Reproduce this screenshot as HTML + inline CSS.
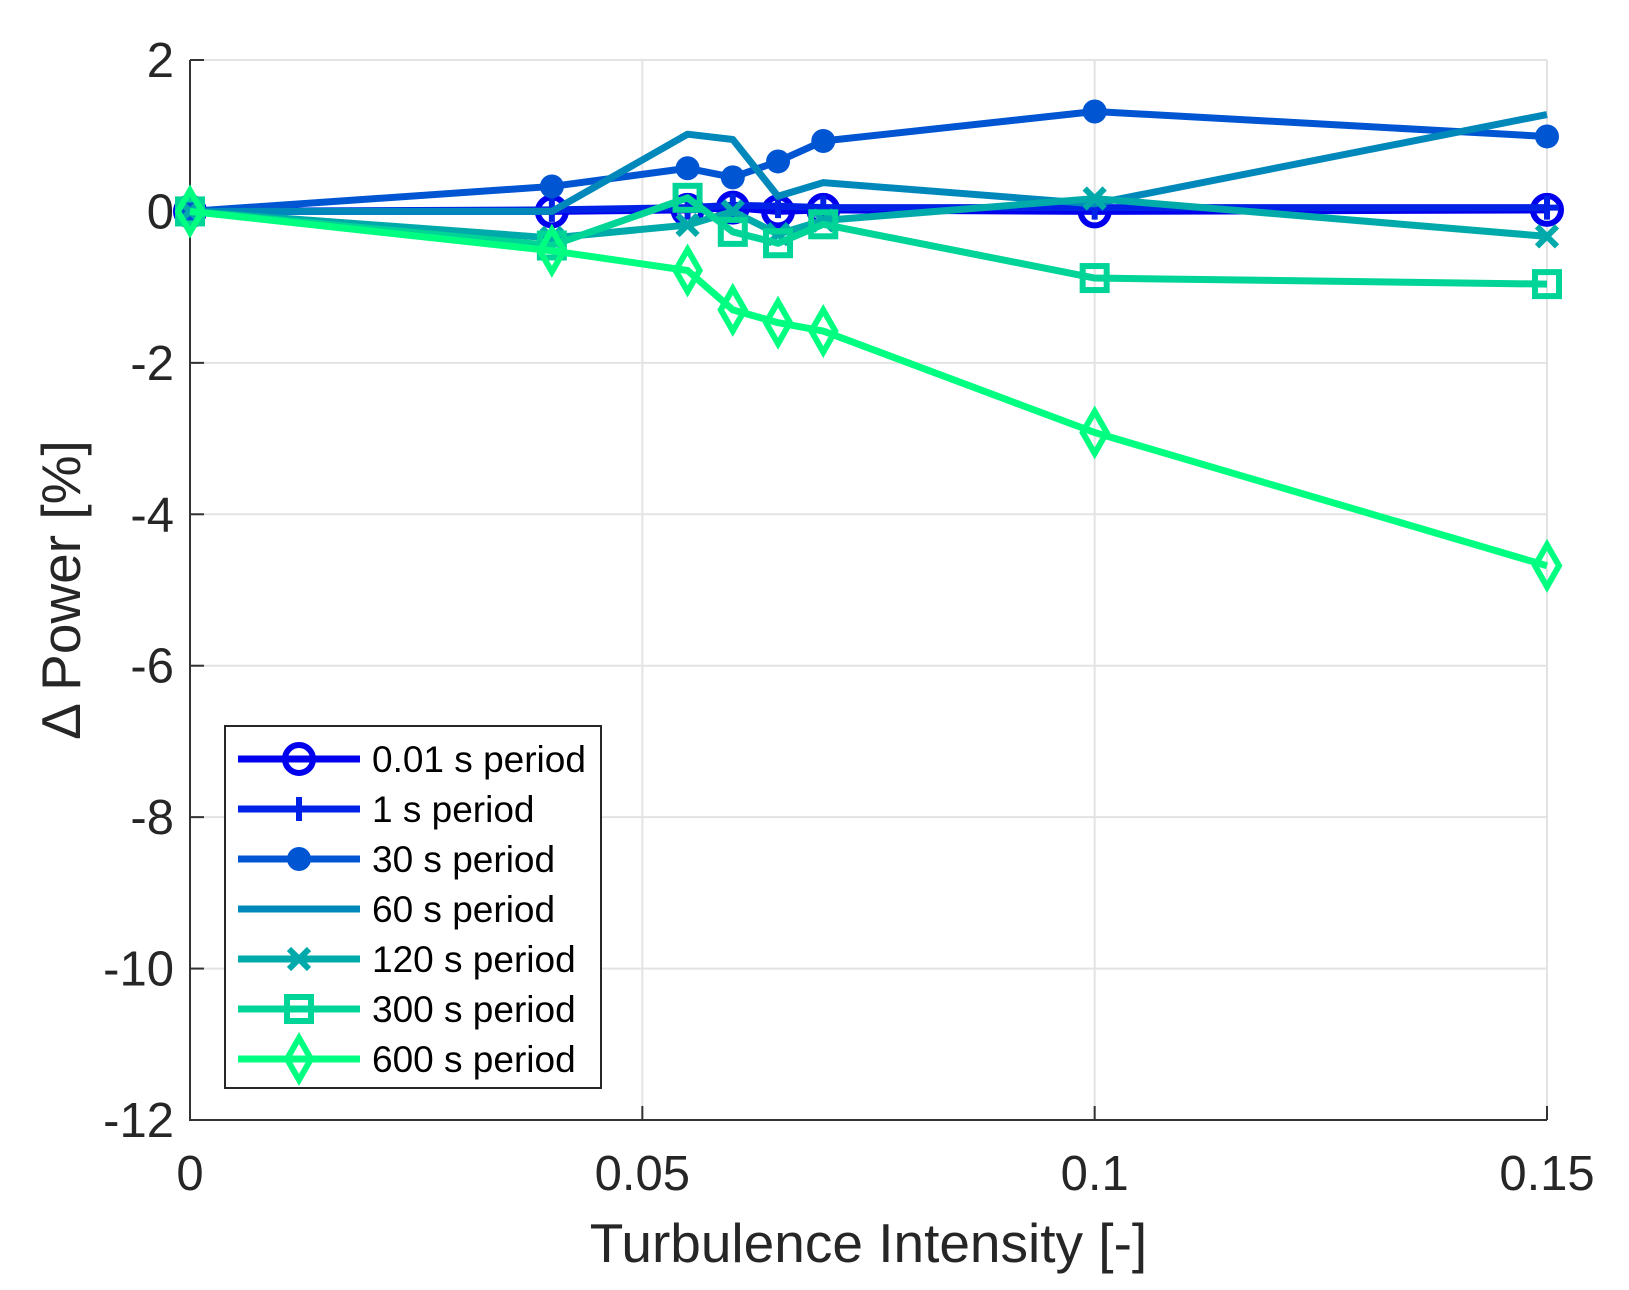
<!DOCTYPE html>
<html><head><meta charset="utf-8"><style>
body{margin:0;background:#fff}
svg{display:block;font-family:"Liberation Sans",Arial,sans-serif}
</style></head><body>
<svg id="chart" width="1629" height="1290" viewBox="0 0 1629 1290" xmlns="http://www.w3.org/2000/svg">
<g id="grid"></g>
<g id="axes"></g>
<g id="series"></g>
<g id="legend"></g>
</svg>
<script>
const xValues = [0, 0.04, 0.055, 0.06, 0.065, 0.07, 0.1, 0.15];
const s001 = [0, 0, 0.02, 0.05, 0, 0.02, 0, 0.02];
const s1 = [0, 0.02, 0.05, 0.08, 0.07, 0.05, 0.05, 0.05];
const s30 = [0, 0.33, 0.57, 0.45, 0.66, 0.93, 1.32, 0.99];
const s60 = [0, 0.0, 1.02, 0.95, 0.2, 0.38, 0.1, 1.28];
const s120 = [0, -0.35, -0.18, 0.0, -0.3, -0.12, 0.17, -0.33];
const s300 = [0, -0.45, 0.18, -0.27, -0.42, -0.17, -0.88, -0.96];
const s600 = [0, -0.52, -0.78, -1.3, -1.47, -1.58, -2.92, -4.68];
const seriesNames = ["0.01 s period","1 s period","30 s period","60 s period","120 s period","300 s period","600 s period"];
const xTicks = [0, 0.05, 0.1, 0.15];
const xTickLabels = ["0","0.05","0.1","0.15"];
const yTicks = [2, 0, -2, -4, -6, -8, -10, -12];
const yTickLabels = ["2","0","-2","-4","-6","-8","-10","-12"];

const NS="http://www.w3.org/2000/svg";
const X0=190,X1=1547,Y0=60,Y1=1120;
const xs=v=>X0+(v-0)/(0.15)*(X1-X0);
const ys=v=>Y0+(2-v)/(14)*(Y1-Y0);
function mk(tag,attrs,parent){const e=document.createElementNS(NS,tag);for(const k in attrs)e.setAttribute(k,attrs[k]);parent.appendChild(e);return e;}
const grid=document.getElementById('grid'),axes=document.getElementById('axes'),ser=document.getElementById('series'),leg=document.getElementById('legend');
xTicks.forEach((t,i)=>{
  if(i>0){const l=mk('line',{x1:xs(t),x2:xs(t),y1:Y0,y2:Y1,stroke:'#e3e3e3','stroke-width':2},grid);
  
  }
  const tk=mk('line',{x1:xs(t),x2:xs(t),y1:Y1,y2:Y1-14,stroke:'#333','stroke-width':2},axes);
  
  
  const tx=mk('text',{x:xs(t),y:Y1+70,'text-anchor':'middle','font-size':49,fill:'#262626'},axes);tx.textContent=xTickLabels[i];
  
  
});
yTicks.forEach((t,i)=>{
  if(i<yTicks.length-1){const l=mk('line',{x1:X0,x2:X1,y1:ys(t),y2:ys(t),stroke:'#e3e3e3','stroke-width':2},grid);
  
  }
  const tk=mk('line',{x1:X0,x2:X0+14,y1:ys(t),y2:ys(t),stroke:'#333','stroke-width':2},axes);
  
  
  const tx=mk('text',{x:X0-16,y:ys(t)+17,'text-anchor':'end','font-size':49,fill:'#262626'},axes);tx.textContent=yTickLabels[i];
  
  
});
const ax=mk('path',{d:`M${X0},${Y0}V${Y1}H${X1}`,fill:'none',stroke:'#333','stroke-width':2},axes);


const xt=mk('text',{x:(X0+X1)/2,y:1262,'text-anchor':'middle','font-size':55,fill:'#262626'},axes);xt.textContent='Turbulence Intensity [-]';


const yt=mk('text',{x:0,y:0,'text-anchor':'middle','font-size':55,fill:'#262626',transform:`translate(80,${(Y0+Y1)/2}) rotate(-90)`},axes);yt.textContent='Δ Power [%]';



const data=[s001,s1,s30,s60,s120,s300,s600];
const colors=['#0000ee','#0022e6','#0055d2','#0088bb','#00aaaa','#00d496','#00ff80'];
const markers=['circle','plus','dot','none','x','square','diamond'];
function marker(type,x,y,c,g){
  const sw=6;
  if(type==='circle')mk('circle',{cx:x,cy:y,r:14,fill:'none',stroke:c,'stroke-width':sw},g);
  else if(type==='plus')mk('path',{d:`M${x-12},${y}H${x+12}M${x},${y-12}V${y+12}`,stroke:c,'stroke-width':sw},g);
  else if(type==='dot')mk('circle',{cx:x,cy:y,r:12,fill:c},g);
  else if(type==='x')mk('path',{d:`M${x-10},${y-10}L${x+10},${y+10}M${x+10},${y-10}L${x-10},${y+10}`,stroke:c,'stroke-width':sw},g);
  else if(type==='square')mk('rect',{x:x-12,y:y-12,width:24,height:24,fill:'none',stroke:c,'stroke-width':sw},g);
  else if(type==='diamond')mk('path',{d:`M${x},${y-21}L${x+12},${y}L${x},${y+21}L${x-12},${y}Z`,fill:'none',stroke:c,'stroke-width':sw},g);
}
data.forEach((arr,si)=>{
  const g=mk('g',{},ser);
  
  
  const pts=arr.map((v,i)=>xs(xValues[i])+','+ys(v)).join(' ');
  mk('polyline',{points:pts,fill:'none',stroke:colors[si],'stroke-width':7,'stroke-linejoin':'round'},g);
  arr.forEach((v,i)=>marker(markers[si],xs(xValues[i]),ys(v),colors[si],g));
});
const lb=mk('rect',{x:225,y:726,width:376,height:362,fill:'#fff',stroke:'#262626','stroke-width':2},leg);


seriesNames.forEach((n,i)=>{
  const y=759+i*50;
  const g=mk('g',{},leg);
  
  
  mk('line',{x1:238,x2:360,y1:y,y2:y,stroke:colors[i],'stroke-width':7},g);
  marker(markers[i],299,y,colors[i],g);
  const t=mk('text',{x:372,y:y+13,'font-size':37,fill:'#000'},g);t.textContent=n;
});
</script>
</body></html>
